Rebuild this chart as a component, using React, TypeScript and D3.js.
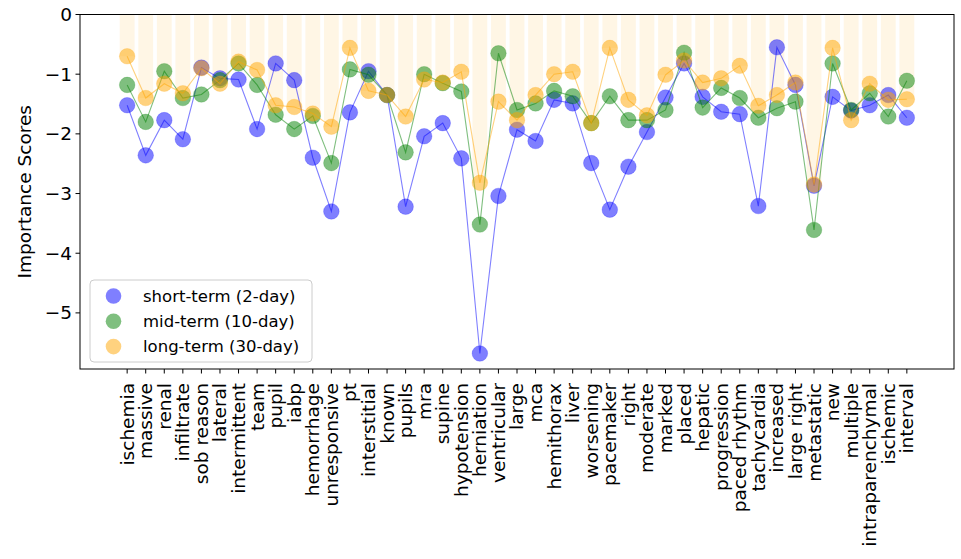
import React from "react";
import * as d3 from "d3";

const categories = ["ischemia","massive","renal","infiltrate","sob reason","lateral","intermittent","team","pupil","iabp","hemorrhage","unresponsive","pt","interstitial","known","pupils","mra","supine","hypotension","herniation","ventricular","large","mca","hemithorax","liver","worsening","pacemaker","right","moderate","marked","placed","hepatic","progression","paced rhythm","tachycardia","increased","large right","metastatic","new","multiple","intraparenchymal","ischemic","interval"];

const shortTerm = [-1.52,-2.36,-1.77,-2.09,-0.89,-1.07,-1.09,-1.92,-0.82,-1.10,-2.40,-3.30,-1.64,-0.95,-1.35,-3.22,-2.04,-1.82,-2.41,-5.68,-3.04,-1.93,-2.12,-1.43,-1.49,-2.49,-3.27,-2.55,-1.97,-1.39,-0.82,-1.38,-1.63,-1.67,-3.21,-0.55,-1.18,-2.87,-1.38,-1.61,-1.52,-1.35,-1.73];
const midTerm = [-1.18,-1.80,-0.95,-1.40,-1.34,-1.10,-0.82,-1.18,-1.68,-1.92,-1.70,-2.49,-0.92,-1.01,-1.35,-2.31,-1.00,-1.15,-1.29,-3.52,-0.65,-1.60,-1.49,-1.28,-1.37,-1.82,-1.37,-1.77,-1.77,-1.60,-0.64,-1.56,-1.23,-1.40,-1.73,-1.57,-1.46,-3.61,-0.82,-1.60,-1.32,-1.71,-1.11];
const longTerm = [-0.70,-1.40,-1.16,-1.32,-0.90,-1.16,-0.79,-0.93,-1.52,-1.55,-1.66,-1.88,-0.56,-1.28,-1.35,-1.71,-1.09,-1.14,-0.96,-2.82,-1.46,-1.77,-1.35,-1.00,-0.96,-1.82,-0.56,-1.43,-1.69,-1.01,-0.77,-1.14,-1.07,-0.86,-1.53,-1.35,-1.14,-2.85,-0.56,-1.77,-1.16,-1.43,-1.42];

const yTicks = [0, -1, -2, -3, -4, -5];
const seriesNames = ["short-term (2-day)", "mid-term (10-day)", "long-term (30-day)"];
const seriesColors = ["#0000ff", "#008000", "#ffa500"];

const W = 961, H = 559;
const left = 80, right = 954, top = 14.5, bottom = 369;
const FONT = "'DejaVu Sans', sans-serif";

export default function App() {
  const n = categories.length;
  const x = d3.scaleLinear().domain([-0.4 - 0.05 * (n - 1 + 0.8), n - 1 + 0.4 + 0.05 * (n - 1 + 0.8)]).range([left, right]);
  const y = d3.scaleLinear().domain([-5.94, 0]).range([bottom, top]);
  const step = x(1) - x(0);
  const series = [shortTerm, midTerm, longTerm];
  const line = d3.line<number>().x((_, i) => x(i)).y((d) => y(d));

  return (
    <svg width={W} height={H} style={{ position: "absolute", left: 0, top: 0, background: "#fff" }}>
      <rect x={0} y={0} width={W} height={H} fill="#fff" />
      {longTerm.map((v, i) => (
        <rect key={"b" + i} x={x(i) - step * 0.4} width={step * 0.8} y={y(0)} height={y(v) - y(0)} fill="#ffa500" fillOpacity={0.1} />
      ))}
      {series.map((s, si) => (
        <g key={"s" + si}>
          <path d={line(s) || ""} fill="none" stroke={seriesColors[si]} strokeOpacity={0.5} strokeWidth={1.1} />
          {s.map((v, i) => (
            <circle key={i} cx={x(i)} cy={y(v)} r={7.8} fill={seriesColors[si]} fillOpacity={0.5} stroke={seriesColors[si]} strokeOpacity={0.2} strokeWidth={1} />
          ))}
        </g>
      ))}
      <rect x={left} y={top} width={right - left} height={bottom - top} fill="none" stroke="#000" strokeWidth={1} />
      {yTicks.map((t) => (
        <g key={"y" + t}>
          <line x1={left - 4.5} x2={left} y1={y(t)} y2={y(t)} stroke="#000" />
          <text x={left - 8} y={y(t)} dy="0.35em" textAnchor="end" fontFamily={FONT} fontSize={18.5} fill="#000">
            {t === 0 ? "0" : "\u2212" + Math.abs(t)}
          </text>
        </g>
      ))}
      <text transform={`translate(25,${(top + bottom) / 2}) rotate(-90)`} textAnchor="middle" dy="0.35em" fontFamily={FONT} fontSize={18.5} fill="#000">
        Importance Scores
      </text>
      {categories.map((c, i) => (
        <g key={"x" + i}>
          <line x1={x(i)} x2={x(i)} y1={bottom} y2={bottom + 4.5} stroke="#000" />
          <text transform={`translate(${x(i)},${bottom + 14}) rotate(-90)`} textAnchor="end" dy="0.35em" fontFamily={FONT} fontSize={18.5} fill="#000">
            {c}
          </text>
        </g>
      ))}
      <rect x={90} y={280} width={222} height={82} rx={4} fill="#fff" fillOpacity={0.8} stroke="#cccccc" />
      {seriesNames.map((nm, i) => (
        <g key={"l" + i}>
          <circle cx={113.5} cy={296 + i * 25.3} r={7.8} fill={seriesColors[i]} fillOpacity={0.5} />
          <text x={143} y={296 + i * 25.3} dy="0.35em" fontFamily={FONT} fontSize={16.5} fill="#000">{nm}</text>
        </g>
      ))}
    </svg>
  );
}
